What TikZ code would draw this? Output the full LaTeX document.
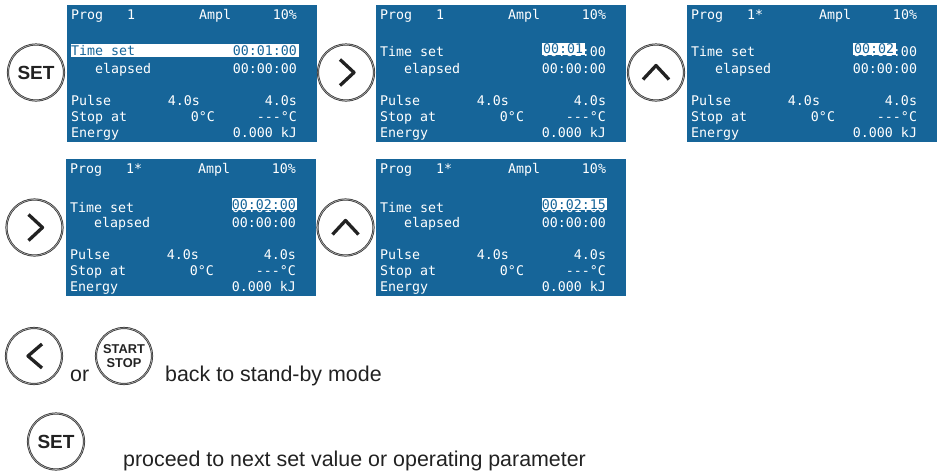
\documentclass[tikz,border=0pt]{standalone}
\usepackage{fontspec}
\setmainfont{Liberation Sans}
\setmonofont{DejaVu Sans Mono}
\definecolor{lcdblue}{RGB}{22,101,153}
\definecolor{ink}{RGB}{34,34,34}
\tikzset{
  panel/.style={fill=lcdblue, draw=none, minimum width=250pt, minimum height=137pt, inner sep=0pt, outer sep=0pt},
  lcdtxt/.style={font=\ttfamily\fontsize{13.3}{14}\selectfont, text=white, inner sep=0pt, outer sep=0pt},
  lcdl/.style={lcdtxt, anchor=base west},
  lcdr/.style={lcdtxt, anchor=base east},
  hlbox/.style={fill=white},
  btn/.style={circle, draw=black!80, double=black!30, double distance=0.6pt, line width=0.75pt,
    minimum size=56pt, inner sep=0pt, text=ink, font=\bfseries\fontsize{19}{20}\selectfont},
  ssbtn/.style={btn, align=center, font=\bfseries\fontsize{12.8}{14.3}\selectfont},
  chev/.style={draw=ink, line width=3.3pt, line join=round, line cap=butt},
  caption/.style={anchor=base west, inner sep=0pt, text=ink, font=\fontsize{21.4}{24}\selectfont}
}
\newcommand\lcdpanel[5]{%
\begin{scope}[shift={(#2,#3)}]
  \node[panel, anchor=north west] (#1) at (0,0) {};
  \node[lcdl] (#1-prog) at (4,14.3) {Prog};
  \node[lcdl] (#1-num) at (60,14.3) {#4};
  \node[lcdl] (#1-ampl) at (132,14.3) {Ampl};
  \node[lcdr] (#1-pct) at (230,14.3) {10\%};
  #5
  \node[lcdl] (#1-el) at (28,68.6) {elapsed};
  \node[lcdr] (#1-elv) at (230,68.6) {00:00:00};
  \node[lcdl] (#1-pu) at (4,100.5) {Pulse};
  \node[lcdr] (#1-pum) at (133,100.5) {4.0s};
  \node[lcdr] (#1-puv) at (230,100.5) {4.0s};
  \node[lcdl] (#1-st) at (4,116.8) {Stop at};
  \node[lcdr] (#1-stm) at (148,116.8) {0°C};
  \node[lcdr] (#1-stv) at (230,116.8) {---°C};
  \node[lcdl] (#1-en) at (4,132.5) {Energy};
  \node[lcdr] (#1-env) at (230,132.5) {0.000 kJ};
\end{scope}}
\begin{document}
\begin{tikzpicture}[x=1pt,y=-1pt]
\path[use as bounding box] (0,0) rectangle (941,474);

% panels
\lcdpanel{pa}{67}{5}{1}{%
  \fill[hlbox] (4,39) rectangle (232,52);
  \node[lcdl,text=lcdblue] (pa-ts) at (4,50) {Time set};
  \node[lcdr,text=lcdblue] (pa-tsv) at (230,50) {00:01:00};}
\lcdpanel{pb}{376}{5}{1}{%
  \node[lcdl] (pb-ts) at (4,51.7) {Time set};
  \node[lcdr] (pb-tsv) at (230,51.7) {00:01:00};
  \fill[hlbox] (166,37.5) rectangle (209,49.5);
  \node[lcdl,text=lcdblue] (pb-hl) at (167,48.8) {00:01};}
\lcdpanel{pc}{687}{5}{1*}{%
  \node[lcdl] (pc-ts) at (4,51.7) {Time set};
  \node[lcdr] (pc-tsv) at (230,51.7) {00:01:00};
  \fill[hlbox] (166,37.5) rectangle (209,49.5);
  \node[lcdl,text=lcdblue] (pc-hl) at (167,48.8) {00:02};}
\lcdpanel{pd}{66}{159}{1*}{%
  \node[lcdl] (pd-ts) at (4,53) {Time set};
  \node[lcdr] (pd-tsv) at (230,53) {00:01:00};
  \fill[hlbox] (166,38.7) rectangle (231,50.7);
  \node[lcdr,text=lcdblue] (pd-hl) at (230,50) {00:02:00};}
\lcdpanel{pe}{376}{159}{1*}{%
  \node[lcdl] (pe-ts) at (4,53) {Time set};
  \node[lcdr] (pe-tsv) at (230,53) {00:01:00};
  \fill[hlbox] (166,38.7) rectangle (231,50.7);
  \node[lcdr,text=lcdblue] (pe-hl) at (230,50) {00:02:15};}

% buttons
\node[btn] (set1) at (36,72.5) {SET};
\node[btn] (right1) at (346,72.5) {};
\node[btn] (up1) at (656,72.5) {};
\node[btn] (right2) at (34.5,227.5) {};
\node[btn] (up2) at (345.5,227.5) {};
\node[btn] (left3) at (34,356) {};
\node[ssbtn] (ss) at (124,356) {START\\STOP};
\node[btn] (set3) at (56,441.5) {SET};

% chevrons
\draw[chev] ([shift={(-6,-13)}]right1.center) -- ([shift={(8,0)}]right1.center) -- ([shift={(-6,13)}]right1.center);
\draw[chev] ([shift={(-6,-13)}]right2.center) -- ([shift={(8,0)}]right2.center) -- ([shift={(-6,13)}]right2.center);
\draw[chev] ([shift={(-13,7)}]up1.center) -- ([shift={(0,-7)}]up1.center) -- ([shift={(13,7)}]up1.center);
\draw[chev] ([shift={(-13,7)}]up2.center) -- ([shift={(0,-7)}]up2.center) -- ([shift={(13,7)}]up2.center);
\draw[chev] ([shift={(8,-12)}]left3.center) -- ([shift={(-6,0)}]left3.center) -- ([shift={(8,12)}]left3.center);

% captions
\node[caption] (or) at (70,381.7) {or};
\node[caption] (back) at (165,381.7) {back to stand-by mode};
\node[caption] (proceed) at (123,466.7) {proceed to next set value or operating parameter};
\end{tikzpicture}
\end{document}
